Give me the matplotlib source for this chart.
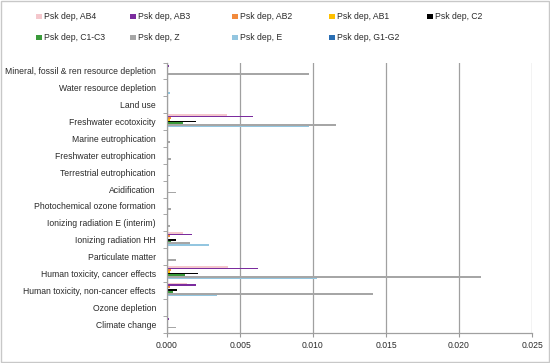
import matplotlib
matplotlib.use("Agg")
import matplotlib.pyplot as plt
import numpy as np
from matplotlib.patches import Rectangle

plt.rcParams['font.family'] = ['Liberation Sans', 'DejaVu Sans']

categories = [
    "Climate change",
    "Ozone depletion",
    "Human toxicity, non-cancer effects",
    "Human toxicity, cancer effects",
    "Particulate matter",
    "Ionizing radiation HH",
    "Ionizing radiation E (interim)",
    "Photochemical ozone formation",
    "Acidification",
    "Terrestrial eutrophication",
    "Freshwater eutrophication",
    "Marine eutrophication",
    "Freshwater ecotoxicity",
    "Land use",
    "Water resource depletion",
    "Mineral, fossil & ren resource depletion",
]

series_names = ["Psk dep, AB4", "Psk dep, AB3", "Psk dep, AB2", "Psk dep, AB1",
                "Psk dep, C2", "Psk dep, C1-C3", "Psk dep, Z", "Psk dep, E",
                "Psk dep, G1-G2"]
colors = ["#F4C7CC", "#7B2C9E", "#F28A3C", "#FFC000", "#000000",
          "#3A9A3A", "#A6A6A6", "#93C6E0", "#2A6EB3"]

# values per category (same order as categories)
ab4 = [0.00003, 0.00001, 0.0014, 0.0042, 0.00005, 0.0011, 0.00001, 0.00002, 0.00004, 0.00002, 0.00002, 0.00002, 0.0041, 0.00001, 0.00002, 0.00005]
ab3 = [0.00012, 0.00002, 0.0020, 0.0062, 0.00008, 0.0017, 0.00002, 0.00004, 0.00008, 0.00005, 0.00006, 0.00004, 0.0059, 0.00001, 0.00004, 0.00012]
ab2 = [0.00001, 0.00001, 0.0002, 0.0003, 0.00001, 0.0002, 0.00001, 0.00001, 0.00001, 0.00001, 0.00001, 0.00001, 0.0003, 0.00001, 0.00001, 0.00002]
ab1 = [0.00001, 0.00001, 0.0001, 0.0002, 0.00001, 0.0001, 0.00001, 0.00001, 0.00001, 0.00001, 0.00001, 0.00001, 0.0002, 0.00001, 0.00001, 0.00001]
c2 = [0.00003, 0.00001, 0.0007, 0.0021, 0.00003, 0.0006, 0.00001, 0.00002, 0.00003, 0.00002, 0.00002, 0.00002, 0.0020, 0.00001, 0.00002, 0.00003]
c1c3 = [0.00002, 0.00001, 0.0004, 0.0012, 0.00002, 0.0003, 0.00001, 0.00001, 0.00002, 0.00001, 0.00001, 0.00001, 0.0011, 0.00001, 0.00001, 0.00002]
z = [0.0006, 0.00005, 0.0141, 0.0215, 0.0006, 0.0016, 0.0002, 0.0003, 0.0006, 0.0002, 0.0003, 0.0002, 0.0116, 0.00003, 0.0001, 0.0097]
e = [0.00005, 0.00001, 0.0034, 0.0103, 0.00004, 0.0029, 0.00001, 0.00003, 0.00004, 0.00003, 0.00010, 0.00003, 0.0097, 0.00001, 0.00018, 0.00006]
g1g2 = [0.00001, 0.00001, 0.00005, 0.0001, 0.00001, 0.00005, 0.00001, 0.00001, 0.00001, 0.00001, 0.00002, 0.00001, 0.0001, 0.00001, 0.00008, 0.00001]

all_series = [ab4, ab3, ab2, ab1, c2, c1c3, z, e, g1g2]

fig = plt.figure(figsize=(5.5, 3.63), dpi=100)
ax = fig.add_axes([167/550, 1-332.5/363, (532-167)/550, (332.5-62.5)/363])

n = len(all_series)
bh = 0.1
y = np.arange(len(categories))
handles = []
for j, (vals, col, name) in enumerate(zip(all_series, colors, series_names)):
    off = (n - 1) / 2 * bh - j * bh
    h = ax.barh(y + off, vals, height=bh, color=col, label=name, linewidth=0)
    handles.append(h)

fs = 6.2
tc = "#2a2a2a"
ax.set_xlim(0, 0.025)
ax.set_ylim(-0.5, len(categories) - 0.5)
ax.set_xticks(np.arange(0, 0.0251, 0.005))
ax.set_xticklabels([f"{v:.3f}" for v in np.arange(0, 0.0251, 0.005)], fontsize=fs, color=tc)
ax.set_yticks(y)
ax.set_yticklabels(categories, fontsize=fs, color=tc)
ax.set_yticks(np.arange(-0.5, len(categories), 1), minor=True)
ax.tick_params(axis='y', which='major', length=0, pad=8)
ax.tick_params(axis='y', which='minor', length=3, color="#999999", direction='out')
ax.tick_params(axis='x', which='major', length=3, color="#999999", direction='out', pad=3)
ax.grid(axis='x', color="#A0A0A0", linewidth=0.9)
ax.set_axisbelow(True)
for s in ["top", "right"]:
    ax.spines[s].set_visible(False)
for s in ["left", "bottom"]:
    ax.spines[s].set_color("#A0A0A0")
    ax.spines[s].set_linewidth(0.9)

# legend: 5 columns placed at fixed x positions (row-major order)
col_x = [33, 127, 229, 326, 424]
for c in range(5):
    idx = [i for i in (c, c + 5) if i < n]
    lg = fig.legend(handles=[handles[i] for i in idx], labels=[series_names[i] for i in idx],
                    loc='upper left', bbox_to_anchor=(col_x[c] / 550, 1 - 9 / 363),
                    ncol=1, frameon=False, fontsize=fs, handlelength=0.6, handleheight=0.6,
                    handletextpad=0.3, labelspacing=1.4, borderpad=0.4, borderaxespad=0)
    for t in lg.get_texts():
        t.set_color(tc)

fig.patches.append(Rectangle((0.002, 0.003), 0.996, 0.994, transform=fig.transFigure,
                             fill=False, edgecolor="#C8C8C8", linewidth=1.0))

fig.savefig("out.png", dpi=100)
